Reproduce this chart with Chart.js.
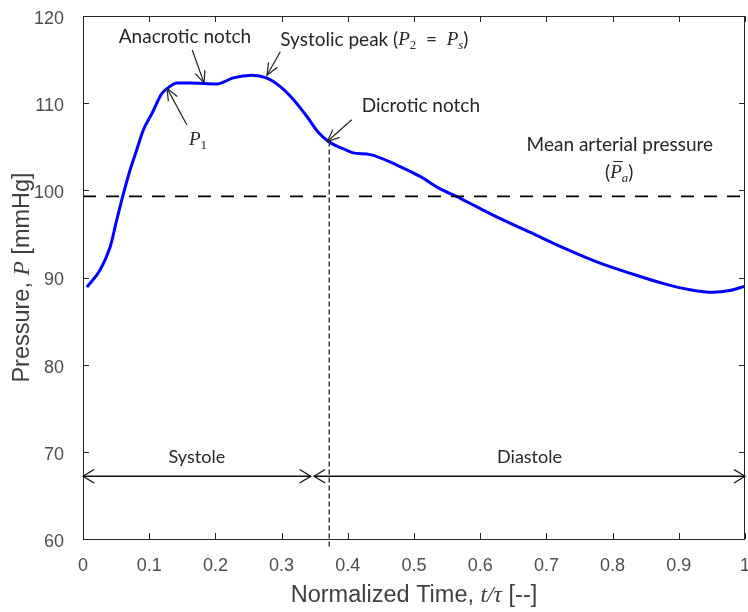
<!DOCTYPE html>
<html><head><meta charset="utf-8">
<script src="https://cdn.jsdelivr.net/npm/chart.js@4"></script>
<style>html,body{margin:0;padding:0;background:#fff}#wrap{width:748px;height:612px;position:relative}</style>
</head><body><div id="wrap"><canvas id="c" width="748" height="612"></canvas></div>
<script>
// ---- data ----
const timeVals = [0.006,0.026,0.041,0.051,0.060,0.071,0.081,0.091,0.104,0.119,0.131,0.142,0.162,0.202,0.227,0.255,0.277,0.298,0.318,0.338,0.355,0.371,0.398,0.408,0.434,0.474,0.509,0.539,0.564,0.595,0.632,0.675,0.726,0.776,0.826,0.877,0.917,0.952,0.977,1.0];
const pressureVals = [88.9,90.9,93.5,96.6,99.3,102.3,104.6,106.9,108.8,111.1,111.9,112.3,112.3,112.2,112.9,113.2,112.9,111.9,110.4,108.5,106.7,105.6,104.6,104.3,104.1,102.9,101.6,100.2,99.3,98.1,96.7,95.2,93.4,91.8,90.5,89.3,88.6,88.3,88.5,89.0];
const xTicks = [0,0.1,0.2,0.3,0.4,0.5,0.6,0.7,0.8,0.9,1];
const yTicks = [60,70,80,90,100,110,120];
const meanPressure = 99.3;
const dicroticTime = 0.372;
const dicroticPressure = 105.6;
const phaseNames = ['Systole','Diastole'];
const phaseStart = [0, 0.349];
const phaseEnd = [0.344, 1];

// ---- layout / annotation placement (data coordinates) ----
const phaseArrowY = 67.2, phaseLabelY = 69.4, dashBottom = 59.1;
const annArrows = [
  {from:[0.165,116.1], to:[0.183,112.3]},
  {from:[0.157,107.5], to:[0.127,111.7]},
  {from:[0.298,115.9], to:[0.278,113.2]},
  {from:[0.406,108.1], to:[0.369,105.6]}
];
const SANS = '"Liberation Sans", Arial, sans-serif';
const ANN = 'Lato, "Open Sans", sans-serif';
const SERIF = '"Liberation Serif", "DejaVu Serif", serif';
const AS = 19;

function fontFor(p, s){
  switch(p.f){
    case 'i': return `italic ${s*1.0}px ${SERIF}`;
    case 'sub': return `${s*0.68}px ${SERIF}`;
    case 'subi': return `italic ${s*0.68}px ${SERIF}`;
    case 'sans': return `${s}px ${SANS}`;
    case 'isans': return `italic ${s}px ${SERIF}`;
    default: return `${s}px ${ANN}`;
  }
}
function drawRich(ctx, parts, x, y, align, s, color){
  let w = 0;
  parts.forEach(p=>{ctx.font = fontFor(p,s); p.w = ctx.measureText(p.t).width; w += p.w;});
  let cx = align==='center' ? x - w/2 : (align==='right' ? x - w : x);
  ctx.fillStyle = color; ctx.textBaseline = 'middle'; ctx.textAlign = 'left';
  parts.forEach(p=>{
    ctx.font = fontFor(p,s);
    const dy = (p.f==='sub'||p.f==='subi') ? s*0.32 : 0;
    ctx.fillText(p.t, cx, y+dy);
    if(p.bar){ ctx.save(); ctx.strokeStyle=color; ctx.lineWidth=1; ctx.beginPath(); ctx.moveTo(cx+3, y-s*0.6); ctx.lineTo(cx+p.w+1, y-s*0.6); ctx.stroke(); ctx.restore(); }
    cx += p.w;
  });
}
const annTexts = [
  {x:0.154, y:117.6, align:'center', parts:[{t:'Anacrotic notch'}]},
  {x:0.298, y:117.25, align:'left', parts:[{t:'Systolic peak ('},{t:'P',f:'i'},{t:'2',f:'sub'},{t:'  =  '},{t:'P',f:'i'},{t:'s',f:'subi'},{t:')'}]},
  {x:0.160, y:105.8, align:'left', parts:[{t:'P',f:'i'},{t:'1',f:'sub'}]},
  {x:0.421, y:109.7, align:'left', parts:[{t:'Dicrotic notch'}]},
  {x:0.811, y:105.2, align:'center', parts:[{t:'Mean arterial pressure'}]},
  {x:0.810, y:102.0, align:'center', parts:[{t:'('},{t:'P',f:'i',bar:true},{t:'a',f:'subi'},{t:')'}]}
];

function arrowHead(ctx, x1,y1,x2,y2,len,ang){
  const a = Math.atan2(y2-y1, x2-x1);
  ctx.beginPath();
  ctx.moveTo(x2 - len*Math.cos(a-ang), y2 - len*Math.sin(a-ang));
  ctx.lineTo(x2, y2);
  ctx.lineTo(x2 - len*Math.cos(a+ang), y2 - len*Math.sin(a+ang));
  ctx.stroke();
}
function arrow(ctx,x1,y1,x2,y2,len,ang){
  ctx.beginPath(); ctx.moveTo(x1,y1); ctx.lineTo(x2,y2); ctx.stroke();
  arrowHead(ctx,x1,y1,x2,y2,len,ang);
}

const deco = {
  id:'deco',
  afterDatasetsDraw(chart){
    const ctx = chart.ctx, xs = chart.scales.x, ys = chart.scales.y, ca = chart.chartArea;
    ctx.save();
    ctx.strokeStyle = '#262626'; ctx.lineWidth = 1;
    ctx.strokeRect(Math.round(ca.left)+0.5, Math.round(ca.top)+0.5, Math.round(ca.right-ca.left)-1, Math.round(ca.bottom-ca.top));
    const tl = 6;
    ctx.beginPath();
    xTicks.forEach(v=>{ const px = Math.round(xs.getPixelForValue(v))+0.5;
      ctx.moveTo(px, ca.bottom); ctx.lineTo(px, ca.bottom-tl);
      ctx.moveTo(px, ca.top); ctx.lineTo(px, ca.top+tl); });
    yTicks.forEach(v=>{ const py = Math.round(ys.getPixelForValue(v))+0.5;
      ctx.moveTo(ca.left, py); ctx.lineTo(ca.left+tl, py);
      ctx.moveTo(ca.right, py); ctx.lineTo(ca.right-tl, py); });
    ctx.stroke();
    ctx.strokeStyle = '#111'; ctx.lineWidth = 1.3;
    phaseNames.forEach((n,i)=>{
      const x1 = xs.getPixelForValue(phaseStart[i]), x2 = xs.getPixelForValue(phaseEnd[i]), py = ys.getPixelForValue(phaseArrowY);
      arrow(ctx, x1, py, x2, py, 13, 0.55);
      arrowHead(ctx, x2, py, x1, py, 13, 0.55);
      drawRich(ctx, [{t:n}], (x1+x2)/2, ys.getPixelForValue(phaseLabelY), 'center', AS-1, '#262626');
    });
    ctx.strokeStyle = '#222'; ctx.lineWidth = 1.2;
    annArrows.forEach(a=>{
      arrow(ctx, xs.getPixelForValue(a.from[0]), ys.getPixelForValue(a.from[1]), xs.getPixelForValue(a.to[0]), ys.getPixelForValue(a.to[1]), 13, 0.4);
    });
    annTexts.forEach(a=>drawRich(ctx, a.parts, xs.getPixelForValue(a.x), ys.getPixelForValue(a.y), a.align, AS, '#262626'));
    const tc = '#404040', ts = 23.5;
    drawRich(ctx, [{t:'Normalized Time, ',f:'sans'},{t:'t/τ',f:'isans'},{t:' [--]',f:'sans'}], (ca.left+ca.right)/2, 596, 'center', ts, tc);
    ctx.save(); ctx.translate(23, (ca.top+ca.bottom)/2); ctx.rotate(-Math.PI/2);
    drawRich(ctx, [{t:'Pressure, ',f:'sans'},{t:'P',f:'isans'},{t:' [mmHg]',f:'sans'}], 0, 0, 'center', ts, tc);
    ctx.restore();
    ctx.restore();
  }
};

function noPad(s){ s.paddingLeft=0; s.paddingRight=0; s.paddingTop=0; s.paddingBottom=0; }

new Chart(document.getElementById('c'), {
  type:'line',
  data:{ datasets:[
    {data: timeVals.map((t,i)=>({x:t,y:pressureVals[i]})), borderColor:'#0000ff', borderWidth:3, pointRadius:0, cubicInterpolationMode:'monotone', order:2},
    {data:[{x:0,y:meanPressure},{x:1,y:meanPressure}], borderColor:'#000', borderWidth:1.8, borderDash:[13,10], pointRadius:0, order:1},
    {data:[{x:dicroticTime,y:dicroticPressure},{x:dicroticTime,y:dashBottom}], borderColor:'#333', borderWidth:1.4, borderDash:[5,3], pointRadius:0, clip:false, order:0}
  ]},
  options:{
    responsive:false, animation:false, devicePixelRatio:1,
    layout:{padding:{top:16, right:3, left:0, bottom:0}},
    plugins:{legend:{display:false}, tooltip:{enabled:false}},
    scales:{
      x:{type:'linear', min:0, max:1, afterFit:s=>{s.height=73; noPad(s);},
        afterBuildTicks:s=>{s.ticks = xTicks.map(v=>({value:v}));},
        grid:{display:false}, border:{display:false},
        ticks:{padding:8, color:'#4d4d4d', font:{family:SANS, size:18}, maxRotation:0, autoSkip:false, callback:v=>String(+v.toFixed(1))}},
      y:{type:'linear', min:60, max:120, afterFit:s=>{s.width=83; noPad(s);},
        afterBuildTicks:s=>{s.ticks = yTicks.map(v=>({value:v}));},
        grid:{display:false}, border:{display:false},
        ticks:{padding:11, labelOffset:3, color:'#4d4d4d', font:{family:SANS, size:18}, autoSkip:false}}
    }
  },
  plugins:[deco]
});
</script></body></html>
